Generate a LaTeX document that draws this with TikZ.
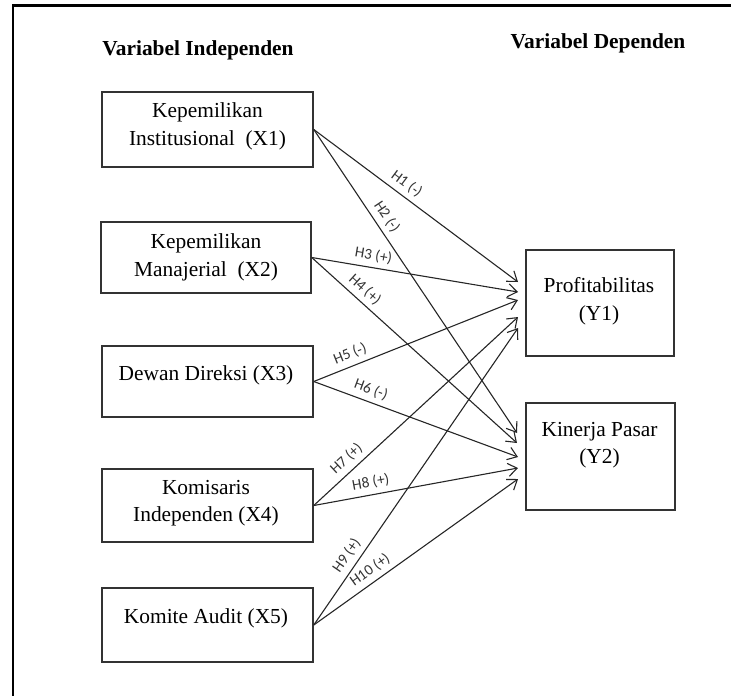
\documentclass[tikz,border=0pt]{standalone}
\usepackage{fontspec}
\setmainfont{Liberation Serif}
\newfontfamily\hypfont{Carlito}
\usetikzlibrary{arrows.meta}

\begin{document}
\begin{tikzpicture}[x=0.5pt,y=-0.5pt,
  every node/.style={font=\fontsize{10.7}{13.8}\selectfont, align=center},
  box/.style={draw=black!80, line width=0.75pt, inner sep=0pt, minimum width=105.5pt},
  txt/.style={inner sep=0pt},
  head/.style={font=\fontsize{10.7}{13.8}\selectfont\bfseries, anchor=base},
  arr/.style={draw=black!85, line width=0.55pt, -{Straight Barb[length=4.5pt,width=6.5pt]}},
  hyp/.style={font=\hypfont\fontsize{7.6}{8.5}\selectfont, text=black!80, sloped, above=1pt, inner sep=1.5pt}]
\useasboundingbox (0,0) rectangle (731,696);
% frame
\draw[line width=1.25pt] (731,5.5) -- (13,5.5) -- (13,696);
% headings
\node[head] (hind) at (198,55) {Variabel Independen};
\node[head] (hdep) at (598,48) {Variabel Dependen};
% independent variables
\node[box, minimum height=37.5pt] (x1) at (207.5,129.5) {};
\node[txt] (t1) at (207.5,126.5) {Kepemilikan\\Institusional\ \ (X1)};
\node[box, minimum width=105pt, minimum height=35.5pt] (x2) at (206,257.5) {};
\node[txt] (t2) at (206,257.5) {Kepemilikan\\Manajerial\ \ (X2)};
\node[box, minimum height=35.5pt] (x3) at (207.5,381.5) {};
\node[txt] (t3) at (206,375.5) {Dewan Direksi (X3)};
\node[box, minimum height=36.5pt] (x4) at (207.5,505.5) {};
\node[txt] (t4) at (206,503) {Komisaris\\Independen (X4)};
\node[box, minimum height=37pt] (x5) at (207.5,625) {};
\node[txt] (t5) at (206,618) {Komite Audit (X5)};
% dependent variables
\node[box, minimum width=74pt, minimum height=53pt] (y1) at (600,303) {};
\node[txt] (u1) at (599,301) {Profitabilitas\\(Y1)};
\node[box, minimum width=74.5pt, minimum height=53.5pt] (y2) at (600.5,456.5) {};
\node[txt] (u2) at (599.5,445) {Kinerja Pasar\\(Y2)};
% arrow ends
\coordinate (e1) at (518,282);
\coordinate (e3) at (518,292);
\coordinate (e5) at (518,300);
\coordinate (e7) at (518,317);
\coordinate (e9) at (518,328);
\coordinate (e2) at (517,433);
\coordinate (e4) at (517,443);
\coordinate (e6) at (518,457);
\coordinate (e8) at (518,468);
\coordinate (e10) at (518,479);
\foreach \from/\to/\hname/\p in {x1/e1/H1 (-)/0.42, x1/e2/H2 (-)/0.31,
    x2/e3/H3 (+)/0.29, x2/e4/H4 (+)/0.22, x3/e5/H5 (-)/0.2, x3/e6/H6 (-)/0.26,
    x4/e7/H7 (+)/0.2, x4/e8/H8 (+)/0.29, x5/e9/H9 (+)/0.21, x5/e10/H10 (+)/0.31}
  \draw[arr] (\from.east) -- (\to) node[hyp, pos=\p] {\hname};
\end{tikzpicture}
\end{document}
